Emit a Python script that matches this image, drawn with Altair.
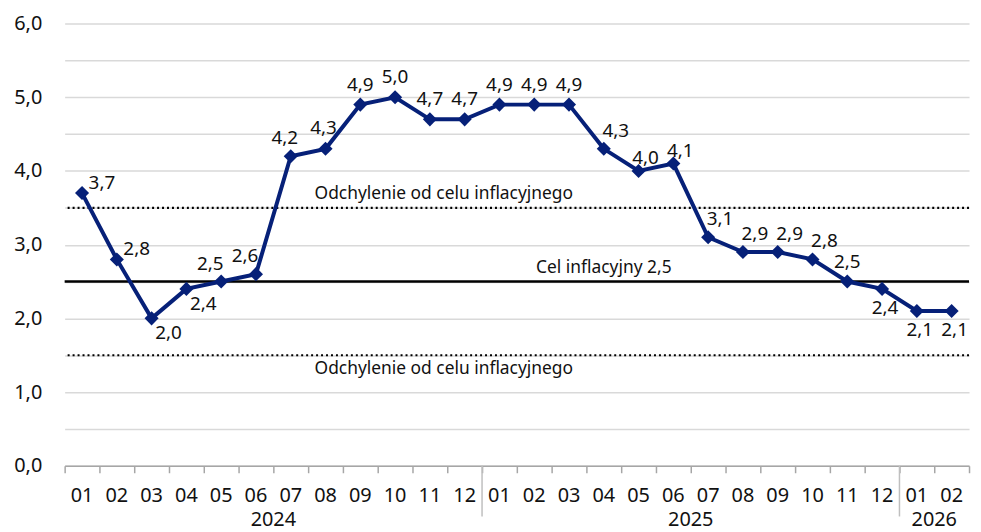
import altair as alt
import pandas as pd

months = ["01", "02", "03", "04", "05", "06", "07", "08", "09", "10", "11", "12",
          "01", "02", "03", "04", "05", "06", "07", "08", "09", "10", "11", "12",
          "01", "02"]
values = [3.7, 2.8, 2.0, 2.4, 2.5, 2.6, 4.2, 4.3, 4.9, 5.0, 4.7, 4.7,
          4.9, 4.9, 4.9, 4.3, 4.0, 4.1, 3.1, 2.9, 2.9, 2.8, 2.5, 2.4,
          2.1, 2.1]
# label placement around each point
placement = ["R", "R", "BR", "BR", "AL", "AL", "AL2", "A2", "A", "A", "A", "A",
             "A", "A", "A", "AR", "R2", "R2", "AR", "AR", "AR", "AR", "A", "B",
             "B", "B"]
years = ["2024", "2025", "2026"]
year_start = [0, 12, 24]
year_len = [12, 12, 2]

target = 2.5
tolerance = 1.0
band_label = "Odchylenie od celu inflacyjnego"
target_label = "Cel inflacyjny 2,5"

FONT = "Noto Sans"
NAVY = "#062078"
TXT = "#111111"
W, H = 910, 445

df = pd.DataFrame({
    "i": list(range(len(values))),
    "month": months,
    "value": values,
    "pos": placement,
})
df["xc"] = df["i"] + 0.5
df["zero"] = 0.0
df["label"] = [f"{v:.1f}".replace(".", ",") for v in values]

ydf = pd.DataFrame({
    "year": years,
    "center": [s + n / 2 for s, n in zip(year_start, year_len)],
    "start": year_start,
    "zero": 0.0,
})

xscale = alt.Scale(domain=[0, len(values)], nice=False, zero=False)
yscale = alt.Scale(domain=[0, 6], nice=False)

XAX = alt.Axis(
    values=list(range(len(values) + 1)), labels=False, title=None, grid=False,
    tickSize=7, tickColor="#a6a6a6", tickWidth=1.5,
    domainColor="#a6a6a6", domainWidth=1.5)
YAX = alt.Axis(
    values=[k * 0.5 for k in range(13)], title=None,
    labelExpr="datum.value % 1 == 0 ? replace(format(datum.value, '.1f'), '.', ',') : ''",
    grid=True, gridColor="#d9d9d9", gridWidth=1.5,
    ticks=False, domain=False, labelPadding=23,
    labelFont=FONT, labelFontSize=20, labelColor=TXT)


def xq(f):
    return alt.X(f, scale=xscale, axis=XAX)


def yq(f):
    return alt.Y(f, scale=yscale, axis=YAX)


# reference lines
ref_df = pd.DataFrame({"y": [target + tolerance, target - tolerance]})
dotted = alt.Chart(ref_df).mark_rule(color="#000000", strokeWidth=2.2, strokeDash=[2, 3]).encode(
    y=yq("y:Q"))
solid = alt.Chart(pd.DataFrame({"y": [target]})).mark_rule(color="#000000", strokeWidth=2.5).encode(
    y=yq("y:Q"))

ann_df = pd.DataFrame({
    "x": [10.9, 10.9, 15.5],
    "y": [target + tolerance, target - tolerance, target],
    "t": [band_label, band_label, target_label],
    "side": ["up", "down", "up"],
})
ann_up = alt.Chart(ann_df).transform_filter("datum.side == 'up'").mark_text(
    font=FONT, fontSize=17.5, color=TXT, dy=-14, baseline="middle").encode(
    x=xq("x:Q"), y=yq("y:Q"), text="t:N")
ann_down = alt.Chart(ann_df).transform_filter("datum.side == 'down'").mark_text(
    font=FONT, fontSize=17.5, color=TXT, dy=14, baseline="middle").encode(
    x=xq("x:Q"), y=yq("y:Q"), text="t:N")

line = alt.Chart(df).mark_line(color=NAVY, strokeWidth=4).encode(x=xq("xc:Q"), y=yq("value:Q"))
pts = alt.Chart(df).mark_point(shape="diamond", filled=True, size=200, color=NAVY, opacity=1).encode(
    x=xq("xc:Q"), y=yq("value:Q"))

offsets = {
    "A": (0, -20), "A2": (-2, -21), "AR": (12, -18), "R": (20, -10), "R2": (7, -13),
    "BR": (17, 15), "AL": (-11, -18), "AL2": (-6, -18), "B": (3, 19),
}
labels = []
for k, (dx, dy) in offsets.items():
    labels.append(
        alt.Chart(df).transform_filter(f"datum.pos == '{k}'").mark_text(
            font=FONT, fontSize=19, color=TXT, dx=dx, dy=dy, baseline="middle"
        ).encode(x=xq("xc:Q"), y=yq("value:Q"), text="label:N")
    )

# month tick labels and years
month_txt = alt.Chart(df).mark_text(font=FONT, fontSize=20, color=TXT, dy=30, baseline="middle").encode(
    x=xq("xc:Q"), y=yq("zero:Q"), text="month:N")
year_txt = alt.Chart(ydf).mark_text(font=FONT, fontSize=20, color=TXT, dy=55, baseline="middle").encode(
    x=xq("center:Q"), y=yq("zero:Q"), text="year:N")
sep = alt.Chart(ydf).transform_filter("datum.start > 0").mark_rule(color="#bfbfbf", strokeWidth=1.5).encode(
    x=xq("start:Q"), y=alt.value(H), y2=alt.value(H + 51))

chart = alt.layer(dotted, solid, ann_up, ann_down, sep, line, pts, *labels, month_txt, year_txt).properties(
    width=W, height=H,
    background="white",
    autosize=alt.AutoSizeParams(type="none"),
    padding={"left": 57, "top": 14, "right": 4, "bottom": 66},
).configure_view(strokeWidth=0, stroke="transparent")

chart.save("out.html", embed_options={"renderer": "svg", "actions": False})
